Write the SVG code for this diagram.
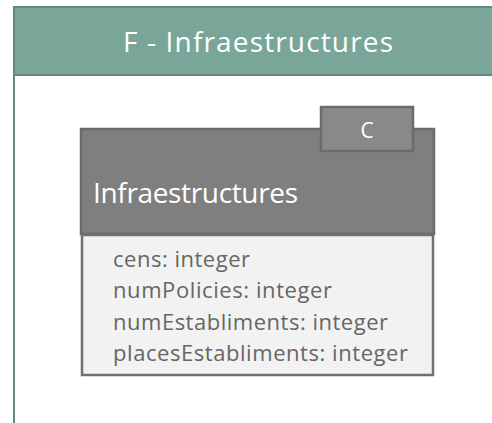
<svg xmlns="http://www.w3.org/2000/svg" width="492" height="423" viewBox="0 0 492 423">
  <style>
    .pkg { fill: #ffffff; stroke: #5f8b7f; stroke-width: 2; }
    .pkg-head { fill: #7aa69a; stroke: #5f8b7f; stroke-width: 2; }
    .cls-head { fill: #7f7f7f; stroke: #6b6b6b; stroke-width: 2.5; }
    .cls-tab { fill: #898989; stroke: #6b6b6b; stroke-width: 2.5; }
    .cls-body { fill: #f2f2f2; stroke: #707070; stroke-width: 2.5; }
    .light { fill: #ffffff; font-family: "Open Sans", "Liberation Sans", sans-serif; }
    .attr { fill: #666666; font-family: "Open Sans", "Liberation Sans", sans-serif; font-size: 22px; }
  </style>

  <!-- package frame: continues past the right and bottom edges -->
  <g id="package-F">
    <rect class="pkg" x="14" y="7" width="500" height="440"/>
    <rect class="pkg-head" x="14" y="7" width="500" height="68"/>
    <text class="light" x="123" y="52" font-size="28" textLength="270">F - Infraestructures</text>
  </g>

  <!-- class Infraestructures with stereotype tab -->
  <g id="class-Infraestructures">
    <rect class="cls-head" x="81" y="129" width="353" height="105"/>
    <rect class="cls-tab" x="321" y="107" width="92" height="44"/>
    <text class="light" x="367" y="138" font-size="21" text-anchor="middle">C</text>
    <text class="light" x="93" y="203" font-size="28" textLength="205">Infraestructures</text>
    <rect class="cls-body" x="82" y="235" width="351" height="140"/>
    <text class="attr" x="113" y="267" textLength="137">cens: integer</text>
    <text class="attr" x="113" y="298" textLength="219">numPolicies: integer</text>
    <text class="attr" x="113" y="330" textLength="275">numEstabliments: integer</text>
    <text class="attr" x="113" y="361" textLength="295">placesEstabliments: integer</text>
  </g>
</svg>
